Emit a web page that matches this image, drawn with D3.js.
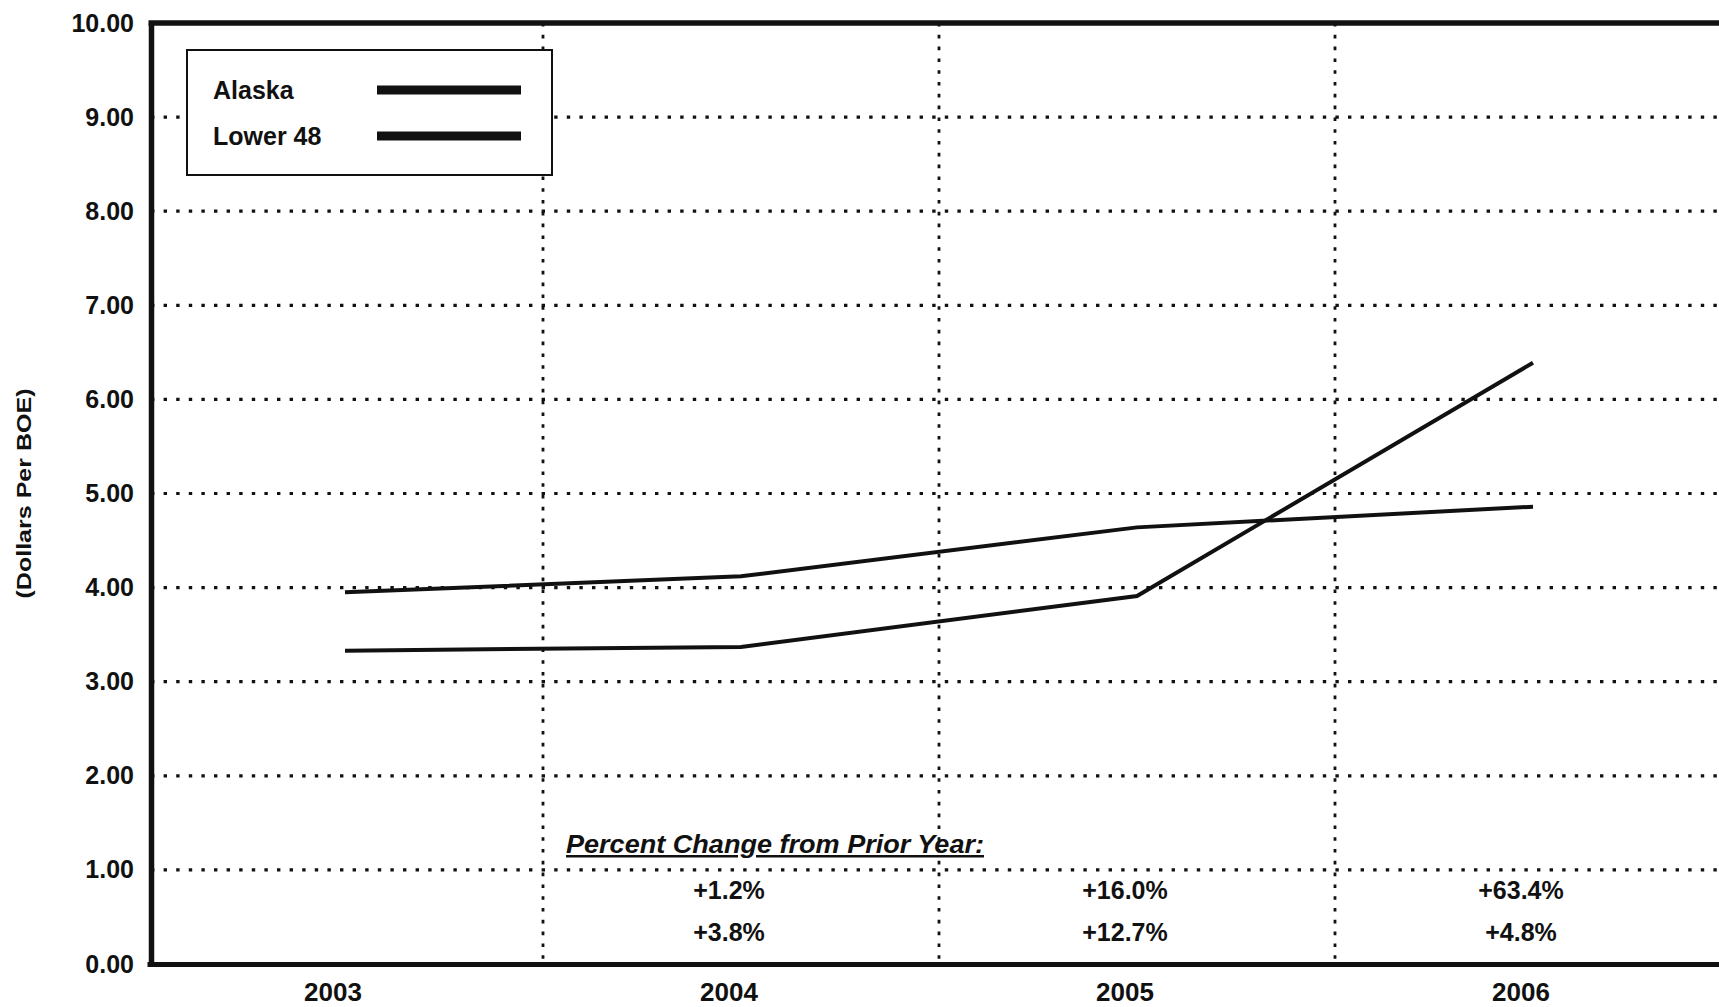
<!DOCTYPE html>
<html>
<head>
<meta charset="utf-8">
<script src="https://cdn.jsdelivr.net/npm/d3@7"></script>
<style>
  html, body { margin: 0; padding: 0; background: #ffffff; }
  svg { display: block; }
  text { font-family: "Liberation Sans", Arial, sans-serif; fill: #111; }
</style>
</head>
<body>
<svg id="chart" width="1719" height="1007"></svg>
<script>
// Cost per barrel of oil equivalent, by region
const years = ["2003", "2004", "2005", "2006"];
const alaska = [3.33, 3.37, 3.91, 6.39];
const lower48 = [3.95, 4.12, 4.64, 4.86];

// Year-over-year change, shown for 2004 onward
const pctYears = ["2004", "2005", "2006"];
const alaskaPct = ["+1.2%", "+16.0%", "+63.4%"];
const lower48Pct = ["+3.8%", "+12.7%", "+4.8%"];

const yTicks = [0, 1, 2, 3, 4, 5, 6, 7, 8, 9, 10];
const seriesNames = ["Alaska", "Lower 48"];

const svg = d3.select("#chart");
const ink = "#111";

const plotLeft = 151, plotRight = 1731, plotTop = 23, plotBottom = 964;

const x = d3.scaleBand().domain(years).range([plotLeft - 4, plotRight]).padding(0);
const y = d3.scaleLinear().domain([0, 10]).range([plotBottom, plotTop]);
const cx = d => x(d) + x.bandwidth() / 2;

// Dotted horizontal grid
svg.append("g")
  .selectAll("line")
  .data(yTicks.filter(t => t > 0 && t < 10))
  .join("line")
  .attr("x1", plotLeft).attr("x2", plotRight)
  .attr("y1", d => y(d)).attr("y2", d => y(d))
  .attr("stroke", ink)
  .attr("stroke-width", 3.2)
  .attr("stroke-dasharray", "3.4 9.2");

// Dotted vertical separators between years
svg.append("g")
  .selectAll("line")
  .data(years.slice(1))
  .join("line")
  .attr("x1", d => x(d)).attr("x2", d => x(d))
  .attr("y1", y(10)).attr("y2", y(0))
  .attr("stroke", ink)
  .attr("stroke-width", 2.8)
  .attr("stroke-dasharray", "3.6 8.2");

// Y axis
const yAxis = svg.append("g")
  .attr("transform", `translate(${plotLeft},0)`)
  .call(d3.axisLeft(y).tickValues(yTicks).tickFormat(d3.format(".2f")).tickSize(0).tickPadding(17));
yAxis.select(".domain").attr("stroke", ink).attr("stroke-width", 5.5);
yAxis.selectAll("text")
  .attr("font-size", 25).attr("font-weight", "bold")
  .attr("font-family", "Liberation Sans, Arial, sans-serif")
  .attr("fill", ink);

// X axis
const xAxis = svg.append("g")
  .attr("transform", `translate(0,${plotBottom})`)
  .call(d3.axisBottom(x).tickSize(0).tickPadding(19));
xAxis.select(".domain").attr("stroke", ink).attr("stroke-width", 5);
xAxis.selectAll("text")
  .attr("dx", -12)
  .attr("font-size", 26).attr("font-weight", "bold")
  .attr("font-family", "Liberation Sans, Arial, sans-serif")
  .attr("fill", ink);

// Top frame
svg.append("line")
  .attr("x1", plotLeft - 2.5).attr("x2", plotRight)
  .attr("y1", y(10)).attr("y2", y(10))
  .attr("stroke", ink).attr("stroke-width", 5.5);

// Y axis title
svg.append("text")
  .attr("transform", `translate(31,${(y(0) + y(10)) / 2}) rotate(-90)`)
  .attr("text-anchor", "middle")
  .attr("font-size", 20).attr("font-weight", "bold")
  .attr("textLength", 210).attr("lengthAdjust", "spacingAndGlyphs")
  .text("(Dollars Per BOE)");

// Series lines
const line = d3.line()
  .x((d, i) => cx(years[i]))
  .y(d => y(d));

svg.append("g")
  .selectAll("path")
  .data([alaska, lower48])
  .join("path")
  .attr("d", d => line(d))
  .attr("fill", "none")
  .attr("stroke", ink)
  .attr("stroke-width", 4)
  .attr("stroke-linejoin", "miter");

// Percent change block
svg.append("text")
  .attr("x", 566).attr("y", 853)
  .attr("font-size", 25).attr("font-weight", "bold").attr("font-style", "italic")
  .attr("text-decoration", "underline")
  .attr("textLength", 418).attr("lengthAdjust", "spacingAndGlyphs")
  .text("Percent Change from Prior Year:");

const pctG = svg.append("g").attr("font-size", 25).attr("font-weight", "bold").attr("text-anchor", "middle");
pctG.selectAll("text.ak")
  .data(alaskaPct)
  .join("text")
  .attr("class", "ak")
  .attr("x", (d, i) => cx(pctYears[i]) - 12)
  .attr("y", 899)
  .text(d => d);
pctG.selectAll("text.l48")
  .data(lower48Pct)
  .join("text")
  .attr("class", "l48")
  .attr("x", (d, i) => cx(pctYears[i]) - 12)
  .attr("y", 941)
  .text(d => d);

// Legend
const legend = svg.append("g");
legend.append("rect")
  .attr("x", 187).attr("y", 50)
  .attr("width", 365).attr("height", 125)
  .attr("fill", "#fff")
  .attr("stroke", ink).attr("stroke-width", 2);
const rowY = [90, 136];
legend.selectAll("text")
  .data(seriesNames)
  .join("text")
  .attr("x", 213)
  .attr("y", (d, i) => rowY[i] + 9)
  .attr("font-size", 25).attr("font-weight", "bold")
  .text(d => d);
legend.selectAll("line")
  .data(seriesNames)
  .join("line")
  .attr("x1", 377).attr("x2", 521)
  .attr("y1", (d, i) => rowY[i]).attr("y2", (d, i) => rowY[i])
  .attr("stroke", ink).attr("stroke-width", 9);
</script>
</body>
</html>
